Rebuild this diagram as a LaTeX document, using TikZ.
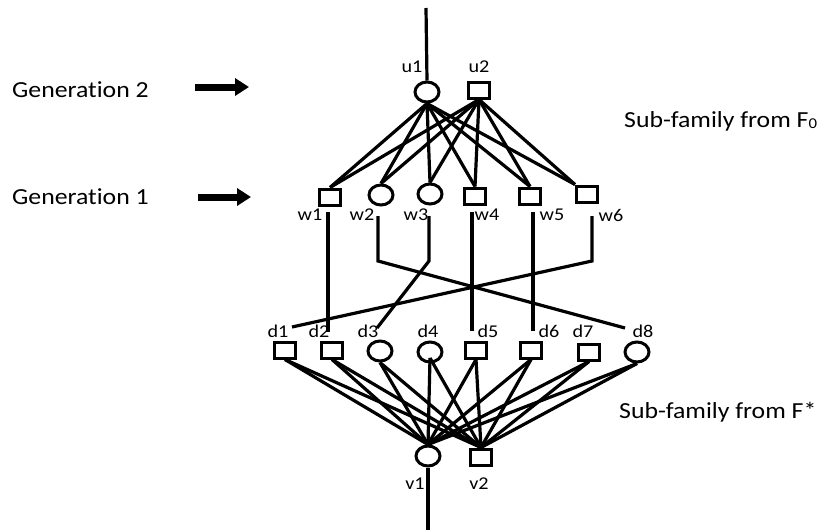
\documentclass[tikz,border=0pt]{standalone}
\usepackage{fontspec}
\setmainfont{Carlito}[FakeStretch=1.12,Ligatures=NoCommon]
\usetikzlibrary{shapes.geometric,arrows.meta}
\begin{document}
\begin{tikzpicture}[x=1pt,y=-1pt,
  ln/.style={line width=3.2pt},
  sq/.style={draw,line width=3pt,rectangle,minimum width=21pt,minimum height=16pt,inner sep=0pt},
  ci/.style={draw,line width=3pt,ellipse,minimum width=24pt,minimum height=20pt,inner sep=0pt},
  lab/.style={font=\fontsize{18}{18}\selectfont,inner sep=0pt},
  big/.style={font=\fontsize{23}{24}\selectfont,inner sep=0pt,anchor=west},
  garrow/.style={line width=7pt,-{Triangle[length=14pt,width=17pt]}}
]
\useasboundingbox (0,0) rectangle (827,530);
% generation 2
\node[ci] (u1) at (427,92) {};
\node[sq] (u2) at (479,90) {};
% generation 1
\node[sq] (w1) at (330,197) {};
\node[ci] (w2) at (381,195) {};
\node[ci] (w3) at (430,194) {};
\node[sq] (w4) at (475,196) {};
\node[sq] (w5) at (530,196) {};
\node[sq] (w6) at (587,194) {};
% d row
\node[sq] (d1) at (285,350) {};
\node[sq] (d2) at (332,350) {};
\node[ci] (d3) at (380,351) {};
\node[ci] (d4) at (430,352) {};
\node[sq] (d5) at (476,350) {};
\node[sq] (d6) at (531,350) {};
\node[sq] (d7) at (589,352) {};
\node[ci] (d8) at (637,352) {};
% v row
\node[ci] (v1) at (428,456) {};
\node[sq] (v2) at (481,457) {};
% labels
\node[lab] (lu1) at (412,67) {u1};
\node[lab] (lu2) at (479,67) {u2};
\node[lab] (lw1) at (310,215) {w1};
\node[lab] (lw2) at (362,215) {w2};
\node[lab] (lw3) at (416,215) {w3};
\node[lab] (lw4) at (487,215) {w4};
\node[lab] (lw5) at (552,215) {w5};
\node[lab] (lw6) at (611,215) {w6};
\node[lab] (ld1) at (278,331) {d1};
\node[lab] (ld2) at (319,331) {d2};
\node[lab] (ld3) at (368,331) {d3};
\node[lab] (ld4) at (428,331) {d4};
\node[lab] (ld5) at (488,331) {d5};
\node[lab] (ld6) at (549,331) {d6};
\node[lab] (ld7) at (583,331) {d7};
\node[lab] (ld8) at (643,331) {d8};
\node[lab] (lv1) at (415,484) {v1};
\node[lab] (lv2) at (479,484) {v2};
% free ends
\coordinate (top) at (426,8);
\coordinate (bot) at (428,530);
\coordinate (a1) at (328,212); \coordinate (b1) at (328,332);
\coordinate (a2) at (378,216); \coordinate (k2) at (378,261); \coordinate (b2) at (625,328);
\coordinate (a3) at (429,216); \coordinate (k3) at (429,261); \coordinate (b3) at (377,328);
\coordinate (a4) at (472,212); \coordinate (b4) at (472,331);
\coordinate (a5) at (533,212); \coordinate (b5) at (533,331);
\coordinate (a6) at (592,216); \coordinate (k6) at (592,261); \coordinate (b6) at (292,327);
\coordinate (d4in) at (430,358);
% connectors
\draw[ln] (top) -- (u1.north);
\draw[ln] (v1.south) -- (bot);
\foreach \w in {w1,w2,w3,w4,w5}{
  \draw[ln] (u1.south) -- (\w.north);
  \draw[ln] (u2.south) -- (\w.north);
}
\draw[ln] (u1.south) -- (w6.north west);
\draw[ln] (u2.south) -- (w6.north west);
\draw[ln] (a1) -- (b1);
\draw[ln] (a2) -- (k2) -- (b2);
\draw[ln] (a3) -- (k3) -- (b3);
\draw[ln] (a4) -- (b4);
\draw[ln] (a5) -- (b5);
\draw[ln] (a6) -- (k6) -- (b6);
\foreach \d in {d1,d2,d3,d5,d6,d7,d8}{
  \draw[ln] (\d.south) -- (v1.north);
  \draw[ln] (\d.south) -- (v2.north);
}
\draw[ln] (d4in) -- (v1.north);
\draw[ln] (d4in) -- (v2.north);
% side texts
\node[big] (g2) at (12,90) {Generat\kern0pt ion 2};
\node[big] (g1) at (12,197) {Generat\kern0pt ion 1};
\coordinate (g2s) at (195,87); \coordinate (g2e) at (249,87);
\coordinate (g1s) at (198,197); \coordinate (g1e) at (251,197);
\draw[garrow] (g2s) -- (g2e);
\draw[garrow] (g1s) -- (g1e);
\node[big] (s0) at (624,121) {Sub-family from F\raisebox{-1pt}{\fontsize{15}{15}\selectfont 0}};
\node[big] (s1) at (619,412) {Sub-family from F*};
\end{tikzpicture}
\end{document}
